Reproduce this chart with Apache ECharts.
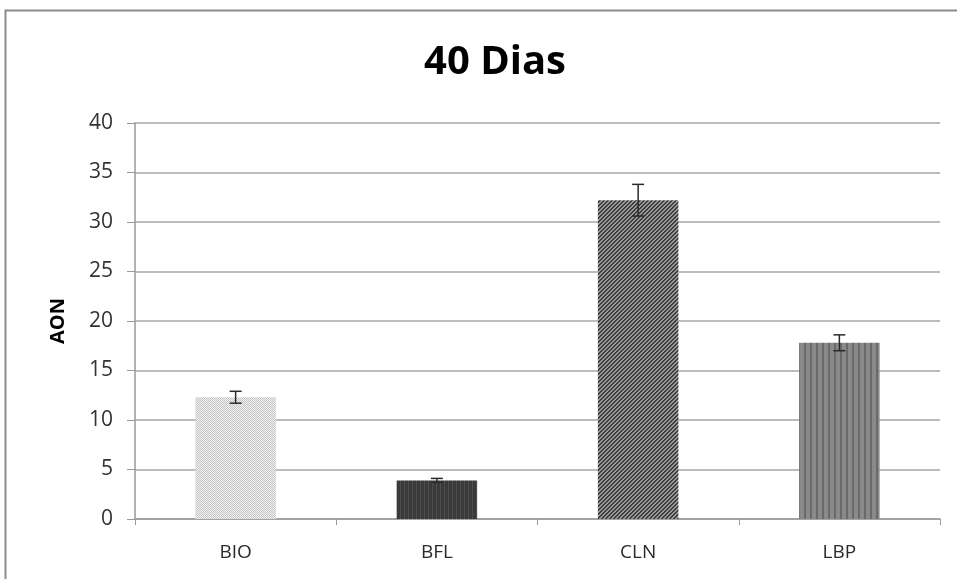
<!DOCTYPE html>
<html>
<head>
<meta charset="utf-8">
<script src="https://cdn.jsdelivr.net/npm/echarts@6/dist/echarts.min.js"></script>
<style>
  html, body { margin: 0; padding: 0; background: #fff; }
  #chart { width: 957px; height: 579px; }
</style>
</head>
<body>
<div id="chart"></div>
<script>
const categories = ['BIO', 'BFL', 'CLN', 'LBP'];
const means = [12.3, 3.9, 32.2, 17.8];
const errors = [0.6, 0.2, 1.6, 0.8];
const yTicks = [0, 5, 10, 15, 20, 25, 30, 35, 40];

// small canvas tiles for the bar fill patterns
function makePattern(size, draw) {
  const c = document.createElement('canvas');
  c.width = size; c.height = size;
  draw(c.getContext('2d'));
  return { image: c, repeat: 'repeat' };
}

const patterns = [
  // fine light checker
  makePattern(2, ctx => {
    ctx.fillStyle = '#f2f2f2'; ctx.fillRect(0, 0, 2, 2);
    ctx.fillStyle = '#c4c4c4'; ctx.fillRect(0, 0, 1, 1); ctx.fillRect(1, 1, 1, 1);
  }),
  // dark with faint vertical lines
  makePattern(4, ctx => {
    ctx.fillStyle = '#3a3a3a'; ctx.fillRect(0, 0, 4, 4);
    ctx.fillStyle = '#4e4e4e'; ctx.fillRect(0, 0, 1, 4);
  }),
  // diagonal stripes
  makePattern(4, ctx => {
    ctx.fillStyle = '#9a9a9a'; ctx.fillRect(0, 0, 4, 4);
    ctx.fillStyle = '#3c3c3c';
    for (let i = 0; i < 4; i++) { ctx.fillRect(i, 3 - i, 1, 1); ctx.fillRect((i + 1) % 4, 3 - i, 1, 1); }
  }),
  // vertical stripes mid gray
  makePattern(6, ctx => {
    ctx.fillStyle = '#8a8a8a'; ctx.fillRect(0, 0, 6, 6);
    ctx.fillStyle = '#6a6a6a'; ctx.fillRect(0, 0, 2, 6);
  })
];

const chart = echarts.init(document.getElementById('chart'));

chart.setOption({
  animation: false,
  backgroundColor: '#fff',
  title: {
    text: '40 Dias',
    left: 490,
    top: 38,
    textAlign: 'center',
    textStyle: { fontFamily: 'Open Sans', fontSize: 40, fontWeight: 'bold', color: '#000' }
  },
  graphic: [{
    type: 'rect',
    shape: { x: 5.5, y: 10.5, width: 960, height: 580 },
    style: { fill: 'none', stroke: '#8c8c8c', lineWidth: 2 }
  }],
  grid: { left: 135, right: 17, top: 123, bottom: 60 },
  xAxis: {
    type: 'category',
    data: categories,
    axisLine: { lineStyle: { color: '#9a9a9a', width: 1.5 } },
    axisTick: { show: true, length: 6, lineStyle: { color: '#9a9a9a' } },
    axisLabel: { fontFamily: 'Open Sans', fontSize: 19, color: '#2a2a2a', margin: 24 }
  },
  yAxis: {
    type: 'value',
    min: 0,
    max: 40,
    interval: 5,
    name: 'AON',
    nameLocation: 'middle',
    nameGap: 67,
    nameTextStyle: { fontFamily: 'Open Sans', fontSize: 20, fontWeight: 'bold', color: '#000' },
    axisLine: { show: true, lineStyle: { color: '#9a9a9a', width: 1.5 } },
    axisTick: { show: true, length: 8, lineStyle: { color: '#9a9a9a' } },
    axisLabel: {
      fontFamily: 'Open Sans', fontSize: 21, color: '#333', margin: 22,
      formatter: v => yTicks.includes(v) ? String(v) : ''
    },
    splitLine: { lineStyle: { color: '#a6a6a6', width: 1.5 } }
  },
  series: [
    {
      type: 'bar',
      barWidth: '40%',
      data: means.map((v, i) => ({ value: v, itemStyle: { color: patterns[i] } }))
    },
    {
      type: 'custom',
      z: 5,
      data: means.map((v, i) => [i, v - errors[i], v + errors[i]]),
      renderItem: (params, api) => {
        const lo = api.coord([api.value(0), api.value(1)]);
        const hi = api.coord([api.value(0), api.value(2)]);
        const half = 6;
        const style = { stroke: '#2a2a2a', lineWidth: 1.5 };
        return {
          type: 'group',
          children: [
            { type: 'line', shape: { x1: hi[0], y1: hi[1], x2: lo[0], y2: lo[1] }, style },
            { type: 'line', shape: { x1: hi[0] - half, y1: hi[1], x2: hi[0] + half, y2: hi[1] }, style },
            { type: 'line', shape: { x1: lo[0] - half, y1: lo[1], x2: lo[0] + half, y2: lo[1] }, style }
          ]
        };
      }
    }
  ]
});
</script>
</body>
</html>
